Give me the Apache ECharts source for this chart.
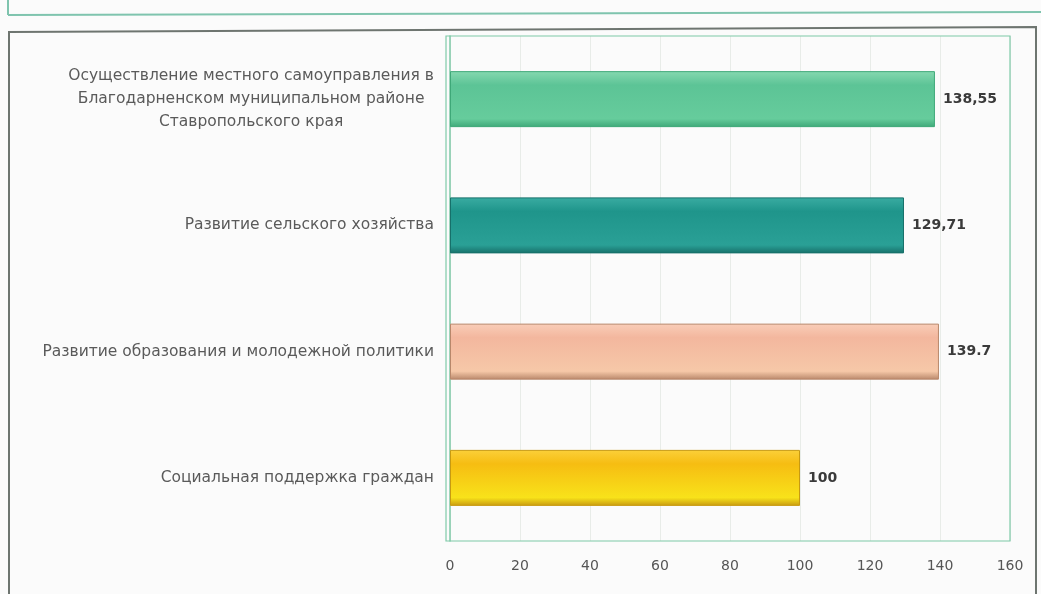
<!DOCTYPE html>
<html><head><meta charset="utf-8">
<script src="https://cdn.jsdelivr.net/npm/echarts@6/dist/echarts.min.js"></script>
<style>html,body{margin:0;padding:0;background:#fbfbfb;}#c{width:1041px;height:594px;}</style>
</head><body><div id="c"></div>
<script>
var categories = [
  'Социальная поддержка граждан',
  'Развитие образования и молодежной политики',
  'Развитие сельского хозяйства',
  'Осуществление местного самоуправления в\nБлагодарненском муниципальном районе\nСтавропольского края'
];
var values = [100, 139.7, 129.71, 138.55];
var valueLabels = ['100', '139.7', '129,71', '138,55'];
var xTicks = [0, 20, 40, 60, 80, 100, 120, 140, 160];

var barColors = [
  ['#fbd03a', '#f6bd12', '#f8e21a', '#c89a10'],
  ['#f9cdb8', '#f3b79e', '#f6c8a8', '#b8876a'],
  ['#3aaca2', '#1f958b', '#2aa096', '#17706a'],
  ['#86d8b0', '#5cc496', '#66cc9c', '#3ea878']
];

var chart = echarts.init(document.getElementById('c'));
var data = values.map(function (v, i) {
  var c = barColors[i];
  return {
    value: v,
    itemStyle: {
      color: new echarts.graphic.LinearGradient(0, 0, 0, 1, [
        {offset: 0, color: c[0]}, {offset: 0.25, color: c[1]},
        {offset: 0.85, color: c[2]}, {offset: 1, color: c[3]}
      ]),
      borderColor: c[3], borderWidth: 1
    },
    label: {formatter: valueLabels[i]}
  };
});

chart.setOption({
  backgroundColor: '#fbfbfb',
  animation: false,
  graphic: [
    {type: 'line', shape: {x1: 8, y1: 15, x2: 1041, y2: 12}, style: {stroke: '#7fc4ae', lineWidth: 2}},
    {type: 'line', shape: {x1: 8, y1: 0, x2: 8, y2: 15}, style: {stroke: '#7fc4ae', lineWidth: 2}},
    {type: 'polyline', shape: {points: [[9, 594], [9, 32], [1036, 27], [1036, 594]]}, style: {stroke: '#6e7570', lineWidth: 2, fill: null}},
    {type: 'rect', shape: {x: 446, y: 36, width: 564, height: 505}, style: {stroke: '#7fcaa8', lineWidth: 1.2, fill: null}, z: 10}
  ],
  grid: {left: 450, right: 31, top: 36, bottom: 53},
  xAxis: {
    type: 'value', min: 0, max: 160, interval: 20,
    axisLine: {show: false}, axisTick: {show: false},
    splitLine: {show: true, lineStyle: {color: '#e8ece8', width: 1}},
    axisLabel: {color: '#555', fontSize: 14, fontFamily: 'DejaVu Sans', margin: 18,
      formatter: function (v) { return xTicks.indexOf(v) >= 0 ? String(v) : ''; }}
  },
  yAxis: {
    type: 'category', data: categories,
    axisLine: {show: true, lineStyle: {color: '#7fcaa8', width: 1.5}},
    axisTick: {show: false},
    axisLabel: {
      color: '#5a5a5a', fontSize: 15.5, fontFamily: 'DejaVu Sans', margin: 16, lineHeight: 23,
      formatter: function (v) { return v.indexOf('\n') >= 0 ? v.split('\n').map(function (s) { return '{c|' + s + '}'; }).join('\n') : v; },
      rich: {c: {align: 'center', color: '#5a5a5a', fontSize: 15.5, fontFamily: 'DejaVu Sans', lineHeight: 23}}
    }
  },
  series: [{
    type: 'bar', data: data, barWidth: 56,
    label: {show: true, position: 'right', distance: 8, color: '#3a3a3a', fontSize: 14, fontWeight: 'bold', fontFamily: 'DejaVu Sans'}
  }]
});
</script></body></html>
